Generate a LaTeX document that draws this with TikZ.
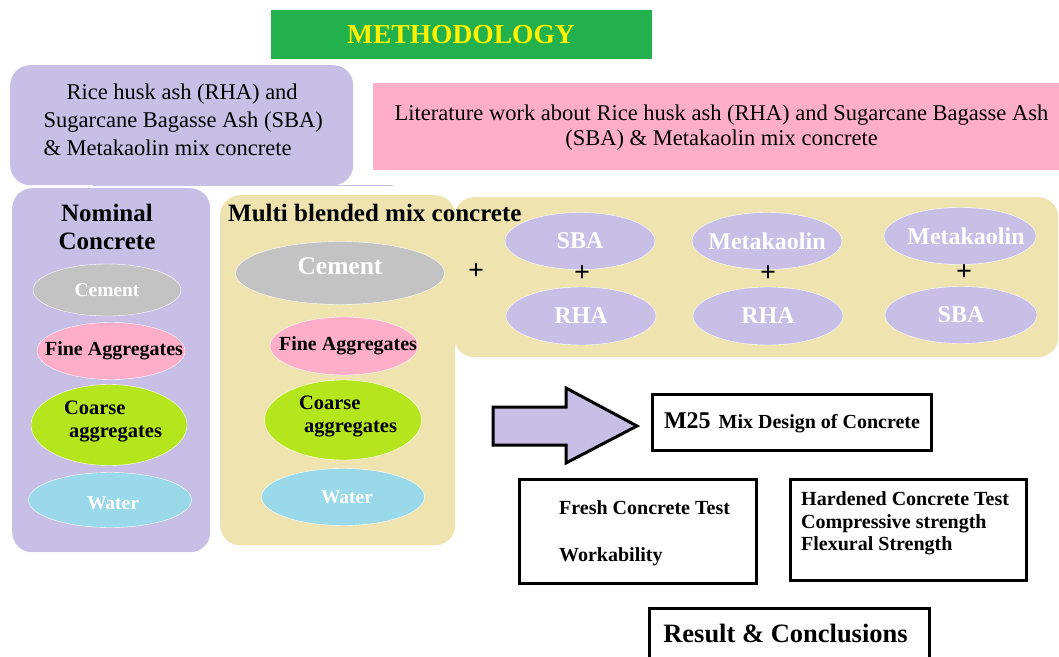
\documentclass[tikz,border=0pt]{standalone}
\usepackage{fontspec}
\setmainfont{Liberation Serif}
\usepackage{xcolor}
\usepackage{tikz}
\usetikzlibrary{positioning}
\usetikzlibrary{shapes.geometric}
\definecolor{mgreen}{HTML}{22B14C}
\definecolor{ttlyellow}{HTML}{FFF200}
\definecolor{lavbox}{HTML}{C8BFE7}
\definecolor{pinkbox}{HTML}{FFAEC9}
\definecolor{tanbox}{HTML}{EFE4B0}
\definecolor{cemgray}{HTML}{C3C3C3}
\definecolor{crsgreen}{HTML}{B5E61D}
\definecolor{watblue}{HTML}{99D9EA}
\tikzset{
  panel/.style = {rectangle, rounded corners=20pt, inner sep=0pt,
    anchor=north west},
  panel_l/.style = {panel, fill=lavbox},% lavender panel
  panel_t/.style = {panel, fill=tanbox},% tan panel
  panel_p/.style = {rectangle, fill=pinkbox, inner sep=0pt,
    anchor=north west},% pink panel
  ingr/.style = {ellipse, draw=white, thin, inner sep=0pt},% ingredient
  tag_w/.style = {text=white, font=\fontsize{#1}{23}\selectfont\bfseries},
  tag_b/.style = {text=black, font=\fontsize{#1}{23}\selectfont\bfseries},
  plus/.style = {font=\fontsize{28}{30}\selectfont\bfseries},
  stepbox/.style = {rectangle, draw=black, line width=3pt, fill=white,
    inner sep=0pt, anchor=north west},% test boxes
  bold_t/.style = {font=\fontsize{#1}{28}\selectfont\bfseries}
}
\begin{document}
\begin{tikzpicture}[x=1pt,y=-1pt]
\useasboundingbox[fill=white] (0,0) rectangle (1059,656);
% title
\node[rectangle, fill=mgreen, text=ttlyellow, minimum width=381pt,
  minimum height=49pt, font=\fontsize{27.5}{30}\selectfont\bfseries]
  (title) at (461,34.5) {METHODOLOGY};
% top boxes
\node[panel_l, minimum width=343pt, minimum height=120pt] (topbox) at (10,65) {};
\node[align=left, font=\fontsize{22.5}{28}\selectfont, anchor=west]
  (toptxt) at (40,120) {\hspace*{23pt}Rice husk ash (RHA) and\\
  Sugarcane Bagasse Ash (SBA)\\ \& Metakaolin mix concrete};
\draw[lavbox, line width=1pt] (93,185) -- (393,185);
\node[panel_p, minimum width=700pt, minimum height=87pt] (litbox) at (373,83) {};
\node[align=center, font=\fontsize{22.5}{25}\selectfont]
  (littxt) at (721.5,128) {Literature work about Rice husk ash (RHA) and Sugarcane Bagasse Ash\\
  (SBA) \& Metakaolin mix concrete};
% nominal concrete
\node[panel_l, minimum width=198pt, minimum height=364pt] (nombox) at (12,188) {};
\node[align=center, bold_t=25] (nomtxt) at (107,227) {Nominal\\Concrete};
\node[ingr, fill=cemgray, minimum width=148pt, minimum height=52pt,
  label={[tag_w=19.5]center:Cement}] (cem1) at (107,290) {};
\node[ingr, fill=pinkbox, minimum width=148pt, minimum height=57pt,
  label={[tag_b=20, xshift=3pt]center:Fine Aggregates}] (fine1) at (111,351) {};
\node[ingr, fill=crsgreen, minimum width=156pt, minimum height=81pt,
  label={[tag_b=20.5, align=left, xshift=4pt, yshift=4pt]center:{Coarse\\\hspace*{5pt}aggregates}}]
  (crs1) at (109,425) {};
\node[ingr, fill=watblue, minimum width=163pt, minimum height=55pt,
  label={[tag_w=19.5, xshift=3pt, yshift=-3pt]center:Water}] (wat1) at (110,500) {};
% multi blended
\node[panel_t, minimum width=235pt, minimum height=350pt] (mbbox) at (220,195) {};
\node[panel_t, minimum width=604pt, minimum height=160pt] (suppbox) at (454,197) {};
\node[bold_t=25, anchor=west, inner sep=0pt] (mbtxt) at (228,213) {Multi blended mix concrete};
\node[ingr, fill=cemgray, minimum width=209pt, minimum height=63pt,
  label={[tag_w=25.5, yshift=7pt]center:Cement}] (cem2) at (340,273) {};
\node[ingr, fill=pinkbox, minimum width=148pt, minimum height=58pt,
  label={[tag_b=20, xshift=4pt]center:Fine Aggregates}] (fine2) at (344,346) {};
\node[ingr, fill=crsgreen, minimum width=157pt, minimum height=80pt,
  label={[tag_b=20.5, align=left, xshift=5pt, yshift=4pt]center:{Coarse\\\hspace*{5pt}aggregates}}]
  (crs2) at (343,420) {};
\node[ingr, fill=watblue, minimum width=163pt, minimum height=57pt,
  label={[tag_w=19.5, xshift=4pt]center:Water}] (wat2) at (343,497) {};
\node[plus] (p0) at (476,272) {+};
% binder pairs
\node[ingr, fill=lavbox, minimum width=150pt, minimum height=57pt,
  label={[tag_w=24]center:SBA}] (sba1) at (580,241) {};
\node[ingr, fill=lavbox, minimum width=150pt, minimum height=58pt,
  label={[tag_w=24]center:RHA}] (rha1) at (581,316) {};
\node[ingr, fill=lavbox, minimum width=150pt, minimum height=57pt,
  label={[tag_w=24]center:Metakaolin}] (mk2) at (767,241) {};
\node[ingr, fill=lavbox, minimum width=150pt, minimum height=58pt,
  label={[tag_w=24]center:RHA}] (rha2) at (768,316) {};
\node[ingr, fill=lavbox, minimum width=152pt, minimum height=57pt,
  label={[tag_w=24, xshift=6pt]center:Metakaolin}] (mk3) at (960,236) {};
\node[ingr, fill=lavbox, minimum width=152pt, minimum height=57pt,
  label={[tag_w=24]center:SBA}] (sba3) at (961,315) {};
\node[plus] (p1) at (582,274) {+};
\node[plus] (p2) at (768,274) {+};
\node[plus] (p3) at (964,273) {+};
% block arrow
\draw[fill=lavbox, line width=3pt, line join=miter]
  (493,407) -- (566,407) -- (566,388) -- (637,426) -- (566,463)
  -- (566,445) -- (493,445) -- cycle;
% test boxes
\node[stepbox, minimum width=279pt, minimum height=56pt] (mixbox) at (651,393)
  {{\fontsize{24}{28}\selectfont\bfseries M25}\hspace{8pt}{\fontsize{20}{24}\selectfont\bfseries Mix Design of Concrete}};
\node[stepbox, minimum width=237pt, minimum height=104pt] (freshbox) at (518,478) {};
\node[align=left, anchor=west, inner sep=0pt, font=\fontsize{20}{47}\selectfont\bfseries]
  (freshtxt) at (559,533.5) {Fresh Concrete Test\\Workability};
\node[stepbox, minimum width=236pt, minimum height=101pt] (hardbox) at (789,478) {};
\node[align=left, anchor=west, inner sep=0pt, font=\fontsize{20}{22.5}\selectfont\bfseries]
  (hardtxt) at (801,523.5) {Hardened Concrete Test\\Compressive strength\\Flexural Strength};
\node[stepbox, minimum width=280pt, minimum height=70pt] (resbox) at (648,607) {};
\node[bold_t=26.5] (restxt) at (785.5,633) {Result \& Conclusions};
\end{tikzpicture}
\end{document}
